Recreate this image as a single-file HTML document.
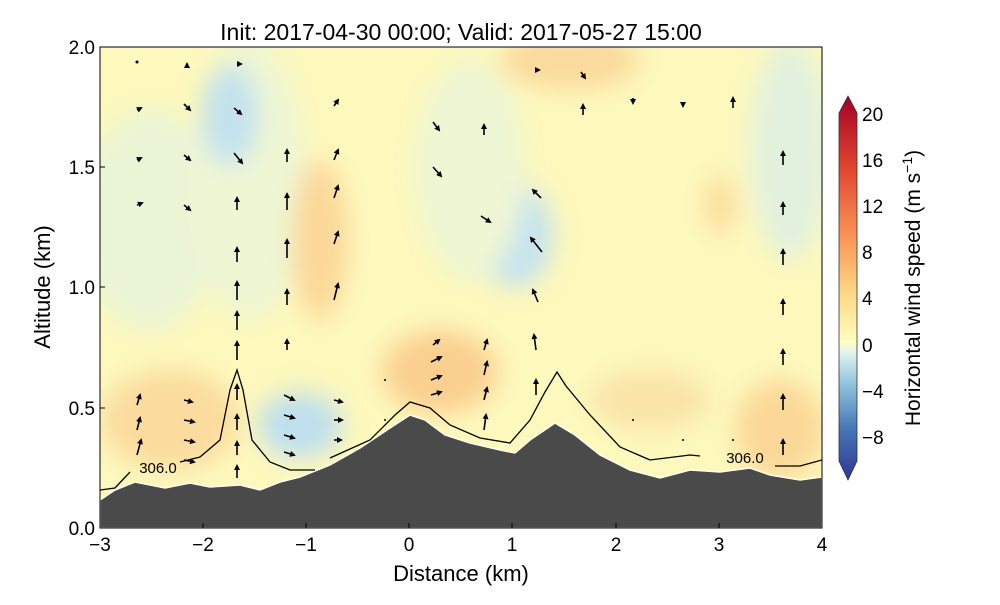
<!DOCTYPE html>
<html><head><style>
body{margin:0;background:#fff;}
svg text{font-family:"Liberation Sans",sans-serif;}
</style></head><body>
<svg width="1000" height="600" xmlns="http://www.w3.org/2000/svg">
<defs>
<clipPath id="pc"><rect x="100" y="47" width="722" height="481"/></clipPath>
<filter id="bl" x="-50%" y="-50%" width="200%" height="200%"><feGaussianBlur stdDeviation="12"/></filter>
<marker id="ah" markerWidth="6" markerHeight="6" refX="4" refY="3" orient="auto" markerUnits="userSpaceOnUse"><path d="M0,0 L6,3 L0,6 z" fill="#000"/></marker>
</defs>
<text x="461" y="40" font-size="23" text-anchor="middle">Init: 2017-04-30 00:00; Valid: 2017-05-27 15:00</text>
<g clip-path="url(#pc)">
<rect x="100" y="47" width="722" height="481" fill="#fdf8bc"/>
<g filter="url(#bl)">
<ellipse cx="150" cy="220" rx="70" ry="110" fill="#eaf5d6"/>
<ellipse cx="250" cy="180" rx="55" ry="140" fill="#eef6d4"/>
<ellipse cx="230" cy="115" rx="28" ry="50" fill="#c2e2ee"/>
<ellipse cx="320" cy="240" rx="28" ry="80" fill="#fbd898"/>
<ellipse cx="300" cy="425" rx="42" ry="33" fill="#bfe0ee"/>
<ellipse cx="440" cy="372" rx="58" ry="42" fill="#fad090"/>
<ellipse cx="515" cy="235" rx="38" ry="52" fill="#c5e3ef"/>
<ellipse cx="470" cy="170" rx="55" ry="110" fill="#eef6d4"/>
<ellipse cx="570" cy="60" rx="70" ry="30" fill="#fbda9c"/>
<ellipse cx="790" cy="150" rx="40" ry="110" fill="#e2f1de"/>
<ellipse cx="720" cy="205" rx="15" ry="30" fill="#fbdc9e"/>
<ellipse cx="170" cy="420" rx="70" ry="50" fill="#fbdc9e"/>
<ellipse cx="780" cy="430" rx="45" ry="50" fill="#fbd898"/>
<ellipse cx="650" cy="400" rx="60" ry="30" fill="#fae4a8"/>
</g>
<path d="M100,500 L115,490 L135,482 L150,485 L165,488 L190,483 L210,487 L240,485 L260,490 L280,482 L300,477 L330,465 L360,448 L390,428 L410,415 L425,420 L445,435 L470,443 L500,450 L515,453 L530,440 L555,423 L575,435 L600,455 L630,470 L660,478 L690,470 L720,472 L750,468 L770,475 L800,480 L822,477 L822,528 L100,528 Z" fill="#4a4a4a" stroke="#fff" stroke-width="1.5"/>
<path d="M100,490 L115,488 L130,472 M180,462 L200,457 L220,440 L230,390 L237,370 L243,390 L252,440 L270,462 L290,470 L315,470" fill="none" stroke="#000" stroke-width="1.3"/>
<path d="M330,458 L370,440 L395,415 L410,402 L430,408 L450,425 L480,438 L510,443 L530,420 L545,392 L557,372 L566,386 L590,415 L620,447 L650,460 L690,455 L700,456 M775,466 L800,466 L822,460" fill="none" stroke="#000" stroke-width="1.3"/>
<text x="158" y="473" font-size="15" text-anchor="middle">306.0</text>
<text x="745" y="463" font-size="15" text-anchor="middle">306.0</text>
<g stroke="#000" stroke-width="1.6" marker-end="url(#ah)">
<line x1="137" y1="110" x2="141" y2="108"/><line x1="137" y1="160" x2="141" y2="158"/><line x1="137" y1="205" x2="142" y2="203"/>
<line x1="187" y1="68" x2="187" y2="64"/><line x1="184" y1="104" x2="190" y2="110"/><line x1="184" y1="155" x2="190" y2="160"/><line x1="184" y1="205" x2="190" y2="210"/>
<line x1="237" y1="64" x2="241" y2="64"/><line x1="234" y1="108" x2="241" y2="114"/><line x1="234" y1="153" x2="242" y2="163"/><line x1="237" y1="210" x2="237" y2="198"/><line x1="237" y1="262" x2="237" y2="248"/><line x1="237" y1="300" x2="237" y2="282"/><line x1="237" y1="330" x2="237" y2="312"/><line x1="237" y1="360" x2="237" y2="342"/>
<line x1="287" y1="162" x2="287" y2="150"/><line x1="287" y1="210" x2="287" y2="194"/><line x1="287" y1="258" x2="287" y2="240"/><line x1="287" y1="305" x2="287" y2="290"/><line x1="287" y1="350" x2="287" y2="340"/>
<line x1="334" y1="106" x2="338" y2="100"/><line x1="334" y1="160" x2="338" y2="150"/><line x1="334" y1="198" x2="338" y2="186"/><line x1="334" y1="244" x2="338" y2="232"/><line x1="334" y1="300" x2="338" y2="284"/>
<line x1="433" y1="122" x2="439" y2="130"/><line x1="433" y1="167" x2="441" y2="176"/><line x1="433" y1="345" x2="439" y2="340"/><line x1="431" y1="362" x2="441" y2="357"/><line x1="431" y1="380" x2="441" y2="376"/><line x1="431" y1="395" x2="441" y2="392"/>
<line x1="484" y1="135" x2="484" y2="125"/><line x1="481" y1="216" x2="490" y2="222"/><line x1="484" y1="350" x2="487" y2="340"/><line x1="484" y1="375" x2="487" y2="362"/><line x1="484" y1="400" x2="487" y2="388"/><line x1="484" y1="430" x2="486" y2="415"/>
<line x1="535" y1="70" x2="539" y2="70"/><line x1="541" y1="198" x2="533" y2="190"/><line x1="542" y1="252" x2="531" y2="238"/><line x1="538" y1="302" x2="533" y2="290"/><line x1="536" y1="350" x2="534" y2="335"/><line x1="536" y1="395" x2="536" y2="380"/>
<line x1="581" y1="72" x2="585" y2="78"/><line x1="583" y1="115" x2="583" y2="105"/><line x1="633" y1="98" x2="633" y2="103"/><line x1="683" y1="102" x2="683" y2="106"/><line x1="733" y1="108" x2="733" y2="98"/>
<line x1="783" y1="165" x2="783" y2="152"/><line x1="783" y1="215" x2="783" y2="203"/><line x1="783" y1="265" x2="783" y2="250"/><line x1="783" y1="315" x2="783" y2="300"/><line x1="783" y1="365" x2="783" y2="350"/><line x1="783" y1="410" x2="783" y2="395"/><line x1="783" y1="455" x2="783" y2="440"/>
<line x1="137" y1="455" x2="141" y2="440"/><line x1="137" y1="430" x2="140" y2="418"/><line x1="137" y1="405" x2="140" y2="395"/>
<line x1="184" y1="420" x2="194" y2="422"/><line x1="184" y1="440" x2="194" y2="442"/><line x1="184" y1="460" x2="194" y2="462"/><line x1="184" y1="400" x2="192" y2="402"/>
<line x1="237" y1="400" x2="237" y2="385"/><line x1="237" y1="430" x2="237" y2="415"/><line x1="237" y1="455" x2="237" y2="442"/><line x1="237" y1="478" x2="237" y2="466"/>
<line x1="284" y1="395" x2="294" y2="400"/><line x1="284" y1="415" x2="294" y2="418"/><line x1="284" y1="435" x2="294" y2="438"/><line x1="284" y1="452" x2="294" y2="455"/>
<line x1="334" y1="400" x2="342" y2="402"/><line x1="334" y1="420" x2="342" y2="420"/><line x1="334" y1="440" x2="341" y2="440"/>
</g>
<g fill="#000">
<circle cx="137" cy="62" r="1.5"/><circle cx="385" cy="380" r="1"/><circle cx="385" cy="420" r="1"/><circle cx="633" cy="420" r="1"/><circle cx="683" cy="440" r="1"/><circle cx="733" cy="440" r="1"/>
</g>
</g>
<rect x="100" y="47" width="722" height="481" fill="none" stroke="#000" stroke-width="1"/>
<g stroke="#000" stroke-width="1">
<line x1="100" y1="528" x2="100" y2="523"/><line x1="203" y1="528" x2="203" y2="523"/><line x1="306" y1="528" x2="306" y2="523"/><line x1="409" y1="528" x2="409" y2="523"/><line x1="512" y1="528" x2="512" y2="523"/><line x1="616" y1="528" x2="616" y2="523"/><line x1="719" y1="528" x2="719" y2="523"/>
<line x1="100" y1="408" x2="105" y2="408"/><line x1="100" y1="287" x2="105" y2="287"/><line x1="100" y1="167" x2="105" y2="167"/>
</g>
<g font-size="19" text-anchor="middle">
<text x="100" y="551">−3</text><text x="203" y="551">−2</text><text x="306" y="551">−1</text><text x="409" y="551">0</text><text x="512" y="551">1</text><text x="616" y="551">2</text><text x="719" y="551">3</text><text x="822" y="551">4</text>
</g>
<g font-size="19" text-anchor="end">
<text x="95" y="535">0.0</text><text x="95" y="415">0.5</text><text x="95" y="294">1.0</text><text x="95" y="174">1.5</text><text x="95" y="54">2.0</text>
</g>
<text x="461" y="581" font-size="22" text-anchor="middle">Distance (km)</text>
<text transform="translate(50,287) rotate(-90)" font-size="22" text-anchor="middle">Altitude (km)</text>
<defs><linearGradient id="cb" x1="0" y1="1" x2="0" y2="0">
<stop offset="0" stop-color="#313695"/><stop offset="0.13" stop-color="#4575b4"/><stop offset="0.25" stop-color="#90c3dd"/><stop offset="0.33" stop-color="#e0f3f0"/><stop offset="0.36" stop-color="#fefec0"/><stop offset="0.5" stop-color="#fdd27f"/><stop offset="0.65" stop-color="#f88d52"/><stop offset="0.82" stop-color="#e0422f"/><stop offset="1" stop-color="#a50026"/></linearGradient></defs>
<path d="M839,113 L848,96 L857,113 L857,461 L848,480 L839,461 Z" fill="url(#cb)" stroke="#333" stroke-width="0.8"/>
<g font-size="19">
<text x="862" y="121">20</text><text x="862" y="167">16</text><text x="862" y="213">12</text><text x="862" y="259">8</text><text x="862" y="305">4</text><text x="862" y="352">0</text><text x="862" y="398">−4</text><text x="862" y="444">−8</text>
</g>
<text transform="translate(920,288) rotate(-90)" font-size="21" text-anchor="middle">Horizontal wind speed (m s<tspan dy="-8" font-size="14">−1</tspan><tspan dy="8">)</tspan></text>
</svg>
</body></html>
